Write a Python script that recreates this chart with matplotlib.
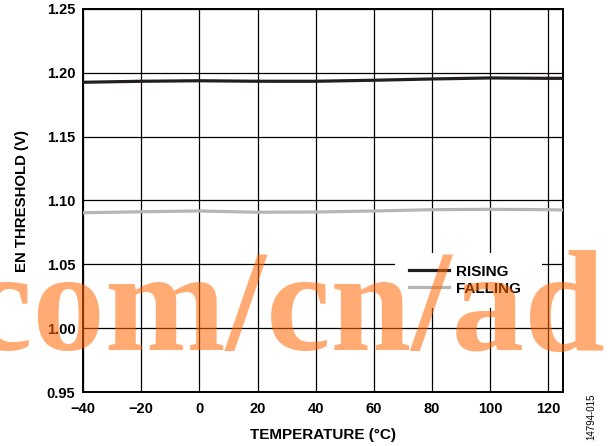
import matplotlib
matplotlib.use("Agg")
import matplotlib.pyplot as plt
from matplotlib.patches import Rectangle

plt.rcParams["font.family"] = ["Liberation Sans", "DejaVu Sans"]

temperature = [-40, -20, 0, 20, 40, 60, 80, 100, 120, 125]
rising = [1.1926, 1.1934, 1.1938, 1.1934, 1.1934, 1.1942, 1.1952, 1.1960, 1.1957, 1.1957]
falling = [1.0904, 1.0912, 1.0918, 1.0908, 1.0910, 1.0918, 1.0928, 1.0931, 1.0928, 1.0926]

x_ticks = [-40, -20, 0, 20, 40, 60, 80, 100, 120]
x_labels = ["\u221240", "\u221220", "0", "20", "40", "60", "80", "100", "120"]
y_ticks = [0.95, 1.00, 1.05, 1.10, 1.15, 1.20, 1.25]

fig = plt.figure(figsize=(6.08, 4.46), dpi=100)
ax = fig.add_axes([83 / 608, 54 / 446, 480 / 608, 383 / 446])

ax.plot(temperature, rising, color="#231f20", lw=2.3, label="RISING", zorder=3)
ax.plot(temperature, falling, color="#b5b5b5", lw=2.3, label="FALLING", zorder=3)

ax.set_xlim(-40, 125)
ax.set_ylim(0.95, 1.25)
ax.set_xticks(x_ticks)
ax.set_xticklabels(x_labels)
ax.set_yticks(y_ticks)
ax.set_yticklabels([f"{v:.2f}" for v in y_ticks])
ax.tick_params(length=0, labelsize=10.5)
ax.tick_params(axis="x", pad=7)
ax.tick_params(axis="y", pad=5.5)
for lab in ax.get_xticklabels() + ax.get_yticklabels():
    lab.set_fontweight("bold")

ax.set_axisbelow(True)
ax.grid(True, color="black", lw=0.9)
for s in ax.spines.values():
    s.set_linewidth(1.4)

ax.set_xlabel("TEMPERATURE (\u00b0C)", fontsize=11, fontweight="bold", labelpad=9)
ax.set_ylabel("EN THRESHOLD (V)", fontsize=10.8, fontweight="bold", labelpad=13)

# white patch behind the legend that breaks the grid
ax.add_patch(Rectangle((67.2, 1.0158), 50.6, 0.0431, facecolor="white",
                       edgecolor="none", zorder=1))
ax.legend(loc="center left", bbox_to_anchor=(0.664, 0.292), frameon=False,
          prop={"size": 11, "weight": "bold"}, handlelength=2.6,
          handletextpad=0.45, labelspacing=0.2, borderpad=0)

fig.text(591 / 608, 29 / 446, "14794-015", rotation=90,
         fontsize=7, ha="center", va="center")

fig.text(-32 / 608, 96 / 446, "com/cn/adi", fontsize=104.5, family="Liberation Serif",
         fontweight="bold", color="#ff6600", alpha=0.55, va="baseline", ha="left")

fig.savefig("out.png", dpi=100)
